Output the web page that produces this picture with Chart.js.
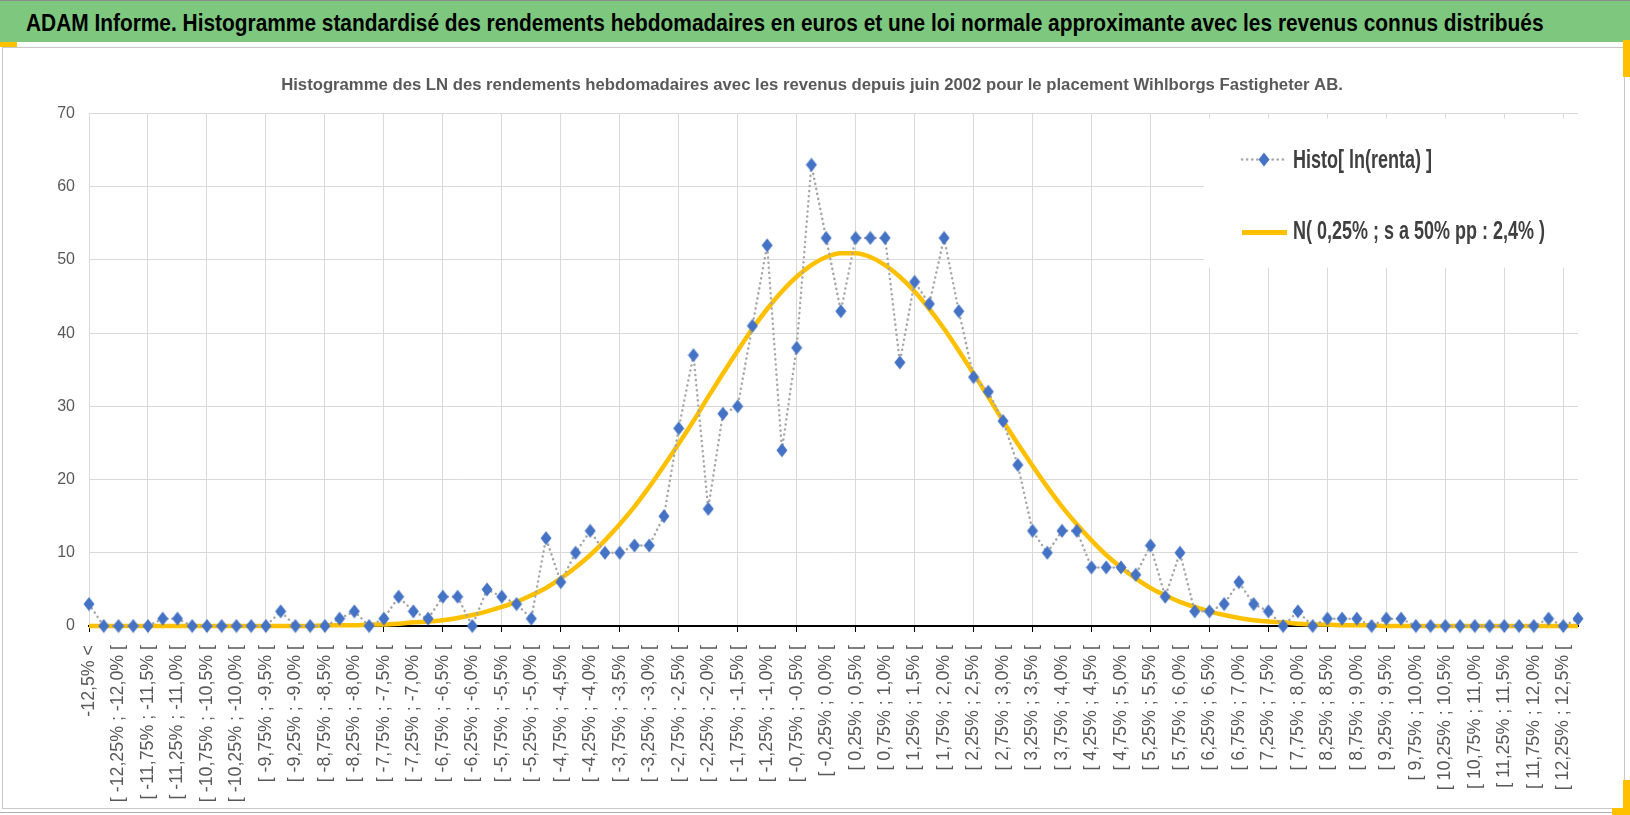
<!DOCTYPE html>
<html>
<head>
<meta charset="utf-8">
<title>ADAM Informe - histogramme</title>
<script src="https://cdn.jsdelivr.net/npm/chart.js@4.4.1/dist/chart.umd.min.js"></script>
<style>
html, body { margin: 0; padding: 0; background: #fff; }
body { width: 1630px; height: 815px; position: relative; overflow: hidden; }
#banner { position: absolute; left: 0; top: 0; width: 1630px; height: 42px; background: #7dc87e; border-top: 1px solid #8c8c8c; box-sizing: border-box; }
#bannerText { position: absolute; left: 26px; top: 1px; line-height: 42px; white-space: nowrap; color: #000; display: inline-block;
  font-family: 'Liberation Sans', sans-serif; font-weight: bold; font-size: 24px; transform-origin: 0 50%; }
#frame { position: absolute; left: 2px; top: 47px; width: 1623px; height: 762px; border: 1.5px solid #c8c8c8; box-sizing: border-box; }
#under { position: absolute; left: 0; top: 812px; width: 1630px; height: 1px; background: #b0b0b0; }
#wrap { position: absolute; left: 0; top: 46px; width: 1630px; height: 769px; }
.sel { position: absolute; background: #ffc000; }
</style>
</head>
<body>
<div id="banner"><span id="bannerText">ADAM Informe. Histogramme standardisé des rendements hebdomadaires en euros et une loi normale approximante avec les revenus connus distribués</span></div>
<div id="frame"></div>
<div id="under"></div>
<div class="sel" style="left:0;top:42px;width:17px;height:5px"></div>
<div class="sel" style="left:1623px;top:40px;width:7px;height:37px"></div>
<div class="sel" style="left:1623px;top:780px;width:7px;height:35px"></div>
<div class="sel" style="left:1612px;top:808px;width:18px;height:7px"></div>
<div id="wrap"><canvas id="myChart"></canvas></div>
<script>
// categories: classes de 0,25% des ln(rendements)
var categories = [
  "-12,5% <", "[ -12,5% ; -12,25% [", "[ -12,25% ; -12,0% [", "[ -12,0% ; -11,75% [", "[ -11,75% ; -11,5% [",
  "[ -11,5% ; -11,25% [", "[ -11,25% ; -11,0% [", "[ -11,0% ; -10,75% [", "[ -10,75% ; -10,5% [", "[ -10,5% ; -10,25% [",
  "[ -10,25% ; -10,0% [", "[ -10,0% ; -9,75% [", "[ -9,75% ; -9,5% [", "[ -9,5% ; -9,25% [", "[ -9,25% ; -9,0% [",
  "[ -9,0% ; -8,75% [", "[ -8,75% ; -8,5% [", "[ -8,5% ; -8,25% [", "[ -8,25% ; -8,0% [", "[ -8,0% ; -7,75% [",
  "[ -7,75% ; -7,5% [", "[ -7,5% ; -7,25% [", "[ -7,25% ; -7,0% [", "[ -7,0% ; -6,75% [", "[ -6,75% ; -6,5% [",
  "[ -6,5% ; -6,25% [", "[ -6,25% ; -6,0% [", "[ -6,0% ; -5,75% [", "[ -5,75% ; -5,5% [", "[ -5,5% ; -5,25% [",
  "[ -5,25% ; -5,0% [", "[ -5,0% ; -4,75% [", "[ -4,75% ; -4,5% [", "[ -4,5% ; -4,25% [", "[ -4,25% ; -4,0% [",
  "[ -4,0% ; -3,75% [", "[ -3,75% ; -3,5% [", "[ -3,5% ; -3,25% [", "[ -3,25% ; -3,0% [", "[ -3,0% ; -2,75% [",
  "[ -2,75% ; -2,5% [", "[ -2,5% ; -2,25% [", "[ -2,25% ; -2,0% [", "[ -2,0% ; -1,75% [", "[ -1,75% ; -1,5% [",
  "[ -1,5% ; -1,25% [", "[ -1,25% ; -1,0% [", "[ -1,0% ; -0,75% [", "[ -0,75% ; -0,5% [", "[ -0,5% ; -0,25% [",
  "[ -0,25% ; 0,0% [", "[ 0,0% ; 0,25% [", "[ 0,25% ; 0,5% [", "[ 0,5% ; 0,75% [", "[ 0,75% ; 1,0% [",
  "[ 1,0% ; 1,25% [", "[ 1,25% ; 1,5% [", "[ 1,5% ; 1,75% [", "[ 1,75% ; 2,0% [", "[ 2,0% ; 2,25% [",
  "[ 2,25% ; 2,5% [", "[ 2,5% ; 2,75% [", "[ 2,75% ; 3,0% [", "[ 3,0% ; 3,25% [", "[ 3,25% ; 3,5% [",
  "[ 3,5% ; 3,75% [", "[ 3,75% ; 4,0% [", "[ 4,0% ; 4,25% [", "[ 4,25% ; 4,5% [", "[ 4,5% ; 4,75% [",
  "[ 4,75% ; 5,0% [", "[ 5,0% ; 5,25% [", "[ 5,25% ; 5,5% [", "[ 5,5% ; 5,75% [", "[ 5,75% ; 6,0% [",
  "[ 6,0% ; 6,25% [", "[ 6,25% ; 6,5% [", "[ 6,5% ; 6,75% [", "[ 6,75% ; 7,0% [", "[ 7,0% ; 7,25% [",
  "[ 7,25% ; 7,5% [", "[ 7,5% ; 7,75% [", "[ 7,75% ; 8,0% [", "[ 8,0% ; 8,25% [", "[ 8,25% ; 8,5% [",
  "[ 8,5% ; 8,75% [", "[ 8,75% ; 9,0% [", "[ 9,0% ; 9,25% [", "[ 9,25% ; 9,5% [", "[ 9,5% ; 9,75% [",
  "[ 9,75% ; 10,0% [", "[ 10,0% ; 10,25% [", "[ 10,25% ; 10,5% [", "[ 10,5% ; 10,75% [", "[ 10,75% ; 11,0% [",
  "[ 11,0% ; 11,25% [", "[ 11,25% ; 11,5% [", "[ 11,5% ; 11,75% [", "[ 11,75% ; 12,0% [", "[ 12,0% ; 12,25% [",
  "[ 12,25% ; 12,5% [", "12,5% <="
];

// Histo[ ln(renta) ] : nombre de semaines par classe
var histoValues = [
  3, 0, 0, 0, 0, 1, 1, 0, 0, 0,
  0, 0, 0, 2, 0, 0, 0, 1, 2, 0,
  1, 4, 2, 1, 4, 4, 0, 5, 4, 3,
  1, 12, 6, 10, 13, 10, 10, 11, 11, 15,
  27, 37, 16, 29, 30, 41, 52, 24, 38, 63,
  53, 43, 53, 53, 53, 36, 47, 44, 53, 43,
  34, 32, 28, 22, 13, 10, 13, 13, 8, 8,
  8, 7, 11, 4, 10, 2, 2, 3, 6, 3,
  2, 0, 2, 0, 1, 1, 1, 0, 1, 1,
  0, 0, 0, 0, 0, 0, 0, 0, 0, 1,
  0, 1
];

// N( 0,25% ; 2,4% )
var normalValues = [
  0, 0, 0, 0, 0, 0, 0, 0, 0, 0,
  0, 0, 0, 0, 0, 0, 0.1, 0.1, 0.1, 0.2,
  0.2, 0.3, 0.5, 0.6, 0.8, 1.1, 1.5, 2.0, 2.6, 3.3,
  4.2, 5.2, 6.5, 8.0, 9.7, 11.7, 13.9, 16.3, 19.0, 21.9,
  24.9, 28.0, 31.3, 34.5, 37.6, 40.6, 43.3, 45.7, 47.7, 49.3,
  50.4, 50.9, 50.9, 50.4, 49.3, 47.7, 45.7, 43.3, 40.6, 37.6,
  34.5, 31.3, 28.0, 24.9, 21.9, 19.0, 16.3, 13.9, 11.7, 9.7,
  8.0, 6.5, 5.2, 4.2, 3.3, 2.6, 2.0, 1.5, 1.1, 0.8,
  0.6, 0.5, 0.3, 0.2, 0.2, 0.1, 0.1, 0.1, 0, 0,
  0, 0, 0, 0, 0, 0, 0, 0, 0, 0,
  0, 0
];

var yTicks = [0, 10, 20, 30, 40, 50, 60, 70];

var seriesNames = ["Histo[ ln(renta) ]", "N( 0,25% ; s a 50% pp : 2,4% )"];
var chartTitle = "Histogramme des LN des rendements hebdomadaires avec les revenus depuis juin 2002 pour le placement Wihlborgs Fastigheter AB.";

// squeeze the banner title to the sheet width (Calibri-like condensed look)
var bannerEl = document.getElementById('bannerText');
var bw = bannerEl.offsetWidth;
bannerEl.style.transform = 'scaleX(' + (1518 / bw) + ')';

// blue diamond marker, a bit taller than wide like in the sheet
var diamond = document.createElement('canvas');
diamond.width = 12;
diamond.height = 15;
var dctx = diamond.getContext('2d');
dctx.fillStyle = '#4472c4';
dctx.beginPath();
dctx.moveTo(6, 0.5);
dctx.lineTo(11.5, 7.5);
dctx.lineTo(6, 14.5);
dctx.lineTo(0.5, 7.5);
dctx.closePath();
dctx.fill();

var labelFont = "'Liberation Sans', 'DejaVu Sans', sans-serif";

// legend drawn inside the plot, on a white box
var legendBox = {
    id: 'legendBox',
    afterDraw: function(chart) {
        var c = chart.ctx;
        var a = chart.chartArea;
        c.save();
        c.fillStyle = '#fff';
        c.fillRect(a.right - 374, a.top + 5, 374, 149);

        var y1 = a.top + 46, y2 = a.top + 119;
        var x0 = a.right - 336, x1 = a.right - 292, xt = a.right - 285;

        c.strokeStyle = '#a6a6a6';
        c.lineWidth = 2.5;
        c.lineCap = 'round';
        c.setLineDash([0.1, 5]);
        c.beginPath(); c.moveTo(x0, y1); c.lineTo(x1, y1); c.stroke();
        c.drawImage(diamond, (x0 + x1) / 2 - 6, y1 - 7.5);

        c.setLineDash([]);
        c.lineCap = 'butt';
        c.strokeStyle = '#ffc000';
        c.lineWidth = 5;
        c.beginPath(); c.moveTo(x0, y2); c.lineTo(x1 + 1, y2); c.stroke();

        c.fillStyle = '#404040';
        c.font = 'bold 25px ' + labelFont;
        c.textBaseline = 'middle';
        c.textAlign = 'left';
        var k = 252 / c.measureText(seriesNames[1]).width;
        [[seriesNames[0], y1 + 2], [seriesNames[1], y2]].forEach(function(it) {
            c.save();
            c.translate(xt, it[1]);
            c.scale(k, 1);
            c.fillText(it[0], 0, 0);
            c.restore();
        });
        c.restore();
    }
};

var ctx = document.getElementById("myChart").getContext('2d');
var myChart = new Chart(ctx, {
    type: 'line',
    data: {
        labels: categories,
        datasets: [{
            label: seriesNames[0],
            data: histoValues,
            borderColor: '#a6a6a6',
            borderWidth: 2.5,
            borderDash: [0.1, 5],
            borderCapStyle: 'round',
            pointStyle: diamond,
            pointRadius: 7,
            tension: 0,
            clip: false,
            order: 0
        }, {
            label: seriesNames[1],
            data: normalValues,
            borderColor: '#ffc000',
            borderWidth: 4.5,
            pointRadius: 0,
            cubicInterpolationMode: 'monotone',
            clip: false,
            order: 1
        }]
    },
    options: {
        responsive: true,
        maintainAspectRatio: false,
        animation: false,
        // left padding pushes the centred title to the right, like in the sheet
        layout: { padding: { left: 46, right: 52, top: 0, bottom: 0 } },
        plugins: {
            legend: { display: false },
            tooltip: { enabled: false },
            title: {
                display: true,
                text: chartTitle,
                color: '#595959',
                font: { family: labelFont, size: 16.7, weight: 'bold' },
                padding: { top: 29, bottom: 18.5 }
            }
        },
        scales: {
            x: {
                offset: false,
                afterFit: function(s) { s.height = 189; },
                border: { display: true, color: '#000', width: 2 },
                grid: {
                    drawTicks: true,
                    tickLength: 6,
                    lineWidth: 1,
                    color: function(c) { return c.index % 4 === 0 ? '#d9d9d9' : 'rgba(0,0,0,0)'; },
                    tickColor: function(c) { return c.index % 4 === 0 ? '#000' : 'rgba(0,0,0,0)'; }
                },
                ticks: {
                    autoSkip: false,
                    minRotation: 90,
                    maxRotation: 90,
                    padding: 13,
                    color: '#595959',
                    font: { family: labelFont, size: 17.8 },
                    callback: function(v, i) { return i % 2 === 0 ? categories[i] : ''; }
                }
            },
            y: {
                min: yTicks[0],
                max: yTicks[yTicks.length - 1],
                afterFit: function(s) { s.width = 43; },
                border: { display: false },
                grid: { color: '#d9d9d9', lineWidth: 1, drawTicks: false },
                ticks: {
                    stepSize: 10,
                    padding: 14,
                    color: '#595959',
                    font: { family: labelFont, size: 16 }
                }
            }
        }
    },
    plugins: [legendBox]
});
</script>
</body>
</html>
